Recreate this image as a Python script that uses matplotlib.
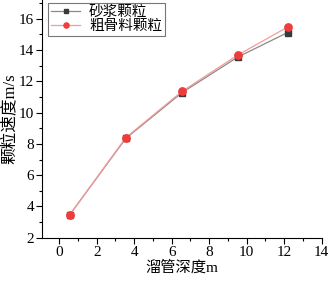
import matplotlib.pyplot as plt
from matplotlib.ticker import MultipleLocator

plt.rcParams['font.family'] = ['Liberation Serif', 'Noto Sans CJK SC']

depth = [0.55, 3.55, 6.55, 9.52, 12.18]
mortar = [3.45, 8.35, 11.28, 13.55, 15.12]
coarse = [3.45, 8.40, 11.36, 13.68, 15.47]
labels = ['砂浆颗粒', '粗骨料颗粒']

fig = plt.figure(figsize=(3.31, 2.83), dpi=100)
ax = fig.add_axes([0.128, 0.16, 0.844, 0.84])

ax.plot(depth, mortar, color='#8a8a8a', lw=0.9, marker='s', ms=4.8,
        mfc='#3a3a3a', mec='#3a3a3a', label=labels[0])
ax.plot(depth, coarse, color='#f59a9a', lw=0.9, marker='o', ms=5.3,
        mfc='#f03c3c', mec='#f03c3c', label=labels[1])

ax.set_xlim(-0.9, 14)
ax.set_ylim(2, 17.2)
ax.xaxis.set_major_locator(MultipleLocator(2))
ax.xaxis.set_minor_locator(MultipleLocator(1))
ax.yaxis.set_major_locator(MultipleLocator(2))
ax.yaxis.set_minor_locator(MultipleLocator(1))
ax.tick_params(which='major', direction='out', length=4, width=0.8, labelsize=11, pad=2)
ax.tick_params(which='minor', direction='out', length=2.5, width=0.8)
ax.spines['top'].set_visible(False)
ax.spines['right'].set_visible(False)

ax.set_xlabel('溜管深度m', fontsize=11, labelpad=1)
ax.set_ylabel('颗粒速度m/s', fontsize=12, labelpad=1)

leg = ax.legend(loc='upper left', bbox_to_anchor=(0.01, 1.0), fontsize=10.5,
                frameon=True, fancybox=False, edgecolor='#555555',
                handlelength=2.0, handletextpad=0.6, borderpad=0.2,
                labelspacing=0.05, borderaxespad=0.2, markerscale=0.7)
leg.get_frame().set_linewidth(0.8)

fig.savefig('out.png', dpi=100)
